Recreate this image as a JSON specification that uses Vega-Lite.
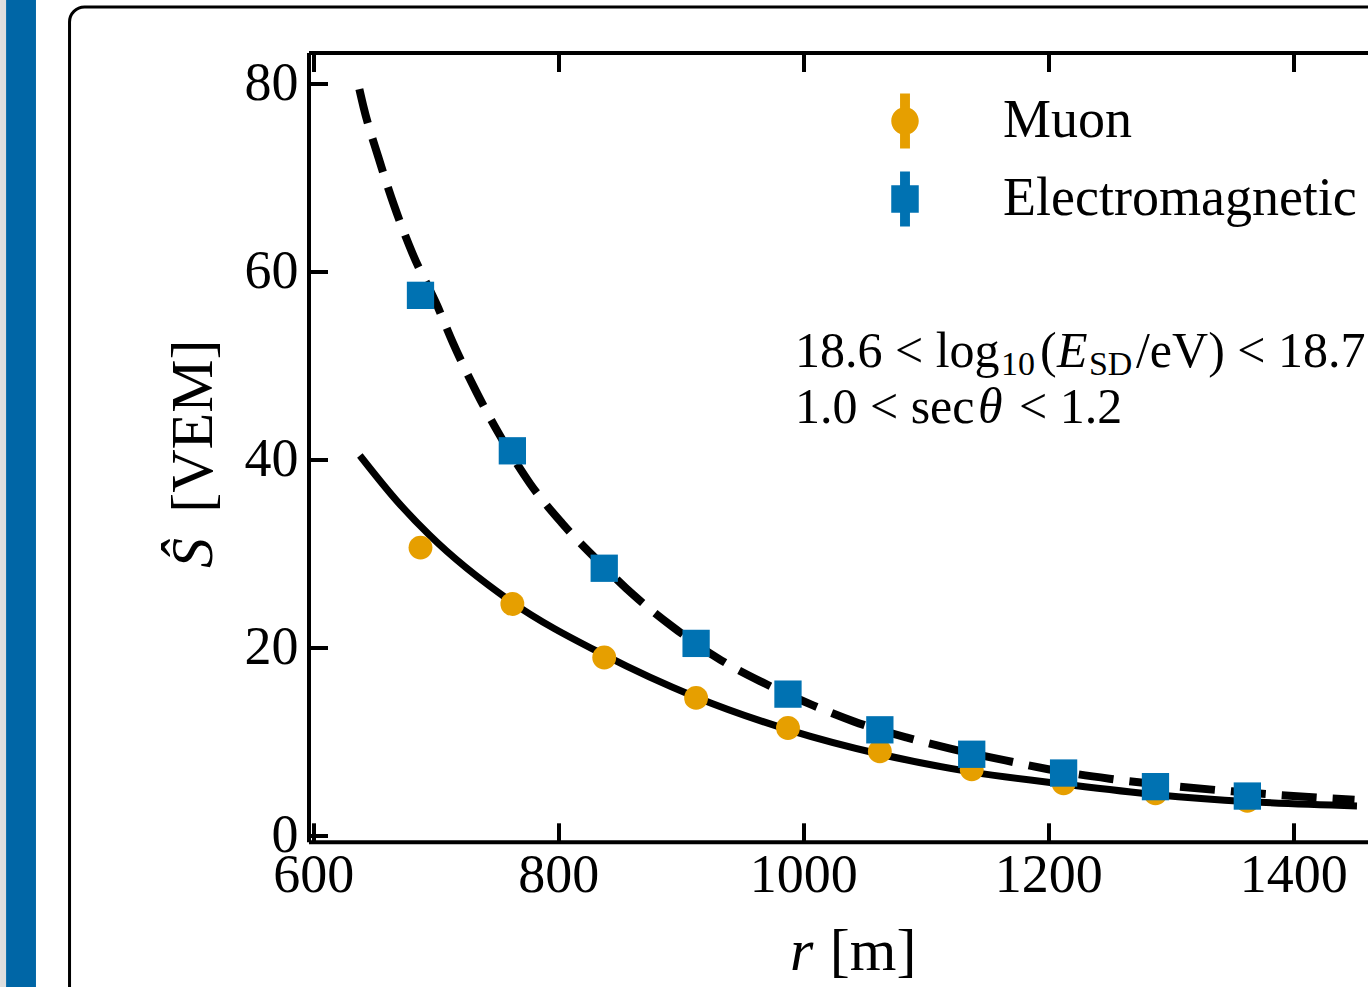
{
  "$schema": "https://vega.github.io/schema/vega-lite/v6.json",
  "autosize": {"type": "none"},
  "padding": {"left": 308.5, "top": 52.5, "right": 0, "bottom": 145.2},
  "width": 1059.5,
  "height": 789.3,
  "background": "white",
  "config": {"view": {"stroke": null}, "font": "Liberation Serif"},
  "resolve": {"axis": {"x": "independent", "y": "independent"}},
  "datasets": {
    "one": [{"item": "annotation"}],
    "points": [
      {"series": "Muon", "r": 687.5, "S": 30.6},
      {"series": "Muon", "r": 762.5, "S": 24.6},
      {"series": "Muon", "r": 837.5, "S": 18.9},
      {"series": "Muon", "r": 912.5, "S": 14.6},
      {"series": "Muon", "r": 987.5, "S": 11.4},
      {"series": "Muon", "r": 1062.5, "S": 8.9},
      {"series": "Muon", "r": 1137.5, "S": 7.0},
      {"series": "Muon", "r": 1212.5, "S": 5.5},
      {"series": "Muon", "r": 1287.5, "S": 4.45},
      {"series": "Muon", "r": 1362.5, "S": 3.64},
      {"series": "Electromagnetic", "r": 687.5, "S": 57.45},
      {"series": "Electromagnetic", "r": 762.5, "S": 40.9},
      {"series": "Electromagnetic", "r": 837.5, "S": 28.4},
      {"series": "Electromagnetic", "r": 912.5, "S": 20.4},
      {"series": "Electromagnetic", "r": 987.5, "S": 15.0},
      {"series": "Electromagnetic", "r": 1062.5, "S": 11.2},
      {"series": "Electromagnetic", "r": 1137.5, "S": 8.6},
      {"series": "Electromagnetic", "r": 1212.5, "S": 6.6},
      {"series": "Electromagnetic", "r": 1287.5, "S": 5.15},
      {"series": "Electromagnetic", "r": 1362.5, "S": 4.15}
    ],
    "fits": [
      {"fit": "muon", "r": 638, "S": 40.4},
      {"fit": "muon", "r": 668, "S": 35.6},
      {"fit": "muon", "r": 695, "S": 31.9},
      {"fit": "muon", "r": 762, "S": 24.8},
      {"fit": "muon", "r": 837, "S": 19.2},
      {"fit": "muon", "r": 912, "S": 14.7},
      {"fit": "muon", "r": 988, "S": 11.2},
      {"fit": "muon", "r": 1063, "S": 8.6},
      {"fit": "muon", "r": 1138, "S": 6.7},
      {"fit": "muon", "r": 1214, "S": 5.4},
      {"fit": "muon", "r": 1288, "S": 4.3},
      {"fit": "muon", "r": 1364, "S": 3.55},
      {"fit": "muon", "r": 1452, "S": 3.1},
      {"fit": "em", "r": 637.6, "S": 79.4},
      {"fit": "em", "r": 641, "S": 77.5},
      {"fit": "em", "r": 653, "S": 72.2},
      {"fit": "em", "r": 666, "S": 67.0},
      {"fit": "em", "r": 681, "S": 61.9},
      {"fit": "em", "r": 701, "S": 56.4},
      {"fit": "em", "r": 714, "S": 52.4},
      {"fit": "em", "r": 733, "S": 47.2},
      {"fit": "em", "r": 752, "S": 42.6},
      {"fit": "em", "r": 777, "S": 37.4},
      {"fit": "em", "r": 803, "S": 33.2},
      {"fit": "em", "r": 837, "S": 28.6},
      {"fit": "em", "r": 861, "S": 25.6},
      {"fit": "em", "r": 893, "S": 22.2},
      {"fit": "em", "r": 933, "S": 18.6},
      {"fit": "em", "r": 966, "S": 16.3},
      {"fit": "em", "r": 1008, "S": 13.8},
      {"fit": "em", "r": 1041, "S": 12.1},
      {"fit": "em", "r": 1084, "S": 10.4},
      {"fit": "em", "r": 1120, "S": 9.2},
      {"fit": "em", "r": 1165, "S": 7.95},
      {"fit": "em", "r": 1200, "S": 7.0},
      {"fit": "em", "r": 1250, "S": 6.0},
      {"fit": "em", "r": 1300, "S": 5.25},
      {"fit": "em", "r": 1350, "S": 4.65},
      {"fit": "em", "r": 1400, "S": 4.15},
      {"fit": "em", "r": 1450, "S": 3.75}
    ]
  },
  "layer": [
    {
      "data": {"name": "one"},
      "mark": {"type": "rect", "fill": "#dedede", "clip": false},
      "encoding": {
        "x": {"datum": 344.3, "type": "quantitative", "axis": null},
        "x2": {"datum": 349.2},
        "y": {"datum": 100, "type": "quantitative", "axis": null},
        "y2": {"datum": -50}
      }
    },
    {
      "data": {"name": "one"},
      "mark": {"type": "rect", "fill": "#0066a6", "clip": false},
      "encoding": {
        "x": {"datum": 349.2, "type": "quantitative", "axis": null},
        "x2": {"datum": 373.6},
        "y": {"datum": 100, "type": "quantitative", "axis": null},
        "y2": {"datum": -50}
      }
    },
    {
      "data": {"name": "one"},
      "mark": {"type": "rect", "filled": false, "stroke": "black", "strokeWidth": 3, "cornerRadius": 15, "clip": false},
      "encoding": {
        "x": {"datum": 401.0, "type": "quantitative", "axis": null},
        "x2": {"datum": 2000},
        "y": {"datum": 88.14, "type": "quantitative", "axis": null},
        "y2": {"datum": -50}
      }
    },
    {
      "data": {"name": "fits"},
      "transform": [{"filter": "datum.fit === 'muon'"}],
      "mark": {"type": "line", "color": "black", "strokeWidth": 7, "interpolate": "monotone", "strokeCap": "butt"},
      "encoding": {
        "x": {"field": "r", "type": "quantitative", "axis": null},
        "y": {"field": "S", "type": "quantitative", "axis": null}
      }
    },
    {
      "data": {"name": "fits"},
      "transform": [{"filter": "datum.fit === 'em'"}],
      "mark": {"type": "line", "color": "black", "strokeWidth": 8, "interpolate": "monotone", "strokeCap": "butt", "strokeDash": [35, 16]},
      "encoding": {
        "x": {"field": "r", "type": "quantitative", "axis": null},
        "y": {"field": "S", "type": "quantitative", "axis": null}
      }
    },
    {
      "data": {"name": "points"},
      "transform": [{"filter": "datum.series === 'Muon'"}],
      "mark": {"type": "point", "filled": true, "shape": "circle", "size": 570, "color": "#E69F00", "opacity": 1, "strokeWidth": 0},
      "encoding": {
        "x": {
          "field": "r", "type": "quantitative",
          "scale": {"domain": [596.08, 1461.0], "nice": false, "zero": false},
          "axis": {
            "orient": "bottom", "values": [600, 800, 1000, 1200, 1400], "format": "d",
            "domainWidth": 4, "domainColor": "black", "tickColor": "black", "tickWidth": 4, "tickSize": -19,
            "labelPadding": 26, "labelFontSize": 54, "labelColor": "black", "labelFont": "Liberation Serif",
            "labelFlush": false, "labelOverlap": false, "grid": false, "zindex": 1, "title": null
          }
        },
        "y": {
          "field": "S", "type": "quantitative",
          "scale": {"domain": [-0.72, 83.3], "nice": false, "zero": false},
          "axis": {
            "orient": "left", "values": [0, 20, 40, 60, 80], "format": "d",
            "domainWidth": 4, "domainColor": "black", "tickColor": "black", "tickWidth": 4, "tickSize": -19,
            "labelPadding": 29.5, "labelFontSize": 54, "labelColor": "black", "labelFont": "Liberation Serif",
            "labelFlush": false, "labelOverlap": false, "grid": false, "zindex": 1, "title": null
          }
        }
      }
    },
    {
      "data": {"name": "points"},
      "transform": [{"filter": "datum.series === 'Electromagnetic'"}],
      "mark": {"type": "point", "filled": true, "shape": "square", "size": 745, "color": "#0072B2", "opacity": 1, "strokeWidth": 0},
      "encoding": {
        "x": {
          "field": "r", "type": "quantitative",
          "axis": {
            "orient": "top", "values": [600, 800, 1000, 1200, 1400], "labels": false, "title": null,
            "domainWidth": 4, "domainColor": "black", "tickColor": "black", "tickWidth": 4, "tickSize": -19,
            "grid": false, "zindex": 1
          }
        },
        "y": {"field": "S", "type": "quantitative", "axis": null}
      }
    },
    {
      "data": {"name": "points"},
      "mark": {"type": "point", "filled": true, "opacity": 0},
      "encoding": {
        "x": {"field": "r", "type": "quantitative", "axis": null},
        "y": {"field": "S", "type": "quantitative", "axis": null},
        "color": {
          "field": "series", "type": "nominal",
          "scale": {"domain": ["Muon", "Electromagnetic"], "range": ["#E69F00", "#0072B2"]},
          "legend": {"orient": "none", "legendX": 569, "legendY": 41, "title": null, "symbolSize": 3025, "labelFontSize": 54, "labelFont": "Liberation Serif", "labelColor": "black", "labelOffset": 70.5, "rowPadding": 23, "symbolStrokeWidth": 0, "symbolOpacity": 1, "padding": 0, "labelLimit": 1000}
        },
        "shape": {
          "field": "series", "type": "nominal",
          "scale": {"domain": ["Muon", "Electromagnetic"], "range": ["M-0.18,-1H0.18V1H-0.18Z M0.5,0A0.5,0.5,0,1,1,-0.5,0A0.5,0.5,0,1,1,0.5,0Z", "M-0.18,-1H0.18V1H-0.18Z M-0.5,-0.5H0.5V0.5H-0.5Z"]},
          "legend": {"orient": "none", "legendX": 569, "legendY": 41, "title": null, "symbolSize": 3025, "labelFontSize": 54, "labelFont": "Liberation Serif", "labelColor": "black", "labelOffset": 70.5, "rowPadding": 23, "symbolStrokeWidth": 0, "symbolOpacity": 1, "padding": 0, "labelLimit": 1000}
        }
      }
    },
    {
      "data": {"name": "one"},
      "mark": {"type": "text", "text": "r", "font": "Liberation Serif", "fontSize": 60, "fontStyle": "italic", "align": "left", "baseline": "alphabetic", "color": "black"},
      "encoding": {"x": {"datum": 989.1, "type": "quantitative", "axis": null}, "y": {"datum": -14.37, "type": "quantitative", "axis": null}}
    },
    {
      "data": {"name": "one"},
      "mark": {"type": "text", "text": "[m]", "font": "Liberation Serif", "fontSize": 60, "align": "left", "baseline": "alphabetic", "color": "black"},
      "encoding": {"x": {"datum": 1021.7, "type": "quantitative", "axis": null}, "y": {"datum": -14.37, "type": "quantitative", "axis": null}}
    },
    {
      "data": {"name": "one"},
      "mark": {"type": "text", "text": "Ŝ", "font": "Liberation Serif", "fontSize": 60, "fontStyle": "italic", "align": "left", "baseline": "alphabetic", "color": "black", "angle": 270},
      "encoding": {"x": {"datum": 517.3, "type": "quantitative", "axis": null}, "y": {"datum": 28.43, "type": "quantitative", "axis": null}}
    },
    {
      "data": {"name": "one"},
      "mark": {"type": "text", "text": "[VEM]", "font": "Liberation Serif", "fontSize": 60, "align": "left", "baseline": "alphabetic", "color": "black", "angle": 270},
      "encoding": {"x": {"datum": 517.3, "type": "quantitative", "axis": null}, "y": {"datum": 34.3, "type": "quantitative", "axis": null}}
    },
    {
      "data": {"name": "one"},
      "mark": {"type": "text", "text": "18.6 < log", "font": "Liberation Serif", "fontSize": 50, "align": "left", "baseline": "alphabetic", "color": "black"},
      "encoding": {"x": {"datum": 993.2, "type": "quantitative", "axis": null}, "y": {"datum": 49.82, "type": "quantitative", "axis": null}}
    },
    {
      "data": {"name": "one"},
      "mark": {"type": "text", "text": "10", "font": "Liberation Serif", "fontSize": 34, "align": "left", "baseline": "alphabetic", "color": "black", "dx": 206, "dy": 8},
      "encoding": {"x": {"datum": 993.2, "type": "quantitative", "axis": null}, "y": {"datum": 49.82, "type": "quantitative", "axis": null}}
    },
    {
      "data": {"name": "one"},
      "mark": {"type": "text", "text": "(", "font": "Liberation Serif", "fontSize": 50, "align": "left", "baseline": "alphabetic", "color": "black", "dx": 245},
      "encoding": {"x": {"datum": 993.2, "type": "quantitative", "axis": null}, "y": {"datum": 49.82, "type": "quantitative", "axis": null}}
    },
    {
      "data": {"name": "one"},
      "mark": {"type": "text", "text": "E", "font": "Liberation Serif", "fontSize": 50, "fontStyle": "italic", "align": "left", "baseline": "alphabetic", "color": "black", "dx": 262},
      "encoding": {"x": {"datum": 993.2, "type": "quantitative", "axis": null}, "y": {"datum": 49.82, "type": "quantitative", "axis": null}}
    },
    {
      "data": {"name": "one"},
      "mark": {"type": "text", "text": "SD", "font": "Liberation Serif", "fontSize": 34, "align": "left", "baseline": "alphabetic", "color": "black", "dx": 294, "dy": 8},
      "encoding": {"x": {"datum": 993.2, "type": "quantitative", "axis": null}, "y": {"datum": 49.82, "type": "quantitative", "axis": null}}
    },
    {
      "data": {"name": "one"},
      "mark": {"type": "text", "text": "/eV) < 18.7", "font": "Liberation Serif", "fontSize": 50, "align": "left", "baseline": "alphabetic", "color": "black", "dx": 341},
      "encoding": {"x": {"datum": 993.2, "type": "quantitative", "axis": null}, "y": {"datum": 49.82, "type": "quantitative", "axis": null}}
    },
    {
      "data": {"name": "one"},
      "mark": {"type": "text", "text": "1.0 < sec", "font": "Liberation Serif", "fontSize": 50, "align": "left", "baseline": "alphabetic", "color": "black"},
      "encoding": {"x": {"datum": 993.2, "type": "quantitative", "axis": null}, "y": {"datum": 43.9, "type": "quantitative", "axis": null}}
    },
    {
      "data": {"name": "one"},
      "mark": {"type": "text", "text": "θ", "font": "Liberation Serif", "fontSize": 50, "fontStyle": "italic", "align": "left", "baseline": "alphabetic", "color": "black", "dx": 183},
      "encoding": {"x": {"datum": 993.2, "type": "quantitative", "axis": null}, "y": {"datum": 43.9, "type": "quantitative", "axis": null}}
    },
    {
      "data": {"name": "one"},
      "mark": {"type": "text", "text": "< 1.2", "font": "Liberation Serif", "fontSize": 50, "align": "left", "baseline": "alphabetic", "color": "black", "dx": 224},
      "encoding": {"x": {"datum": 993.2, "type": "quantitative", "axis": null}, "y": {"datum": 43.9, "type": "quantitative", "axis": null}}
    }
  ]
}
